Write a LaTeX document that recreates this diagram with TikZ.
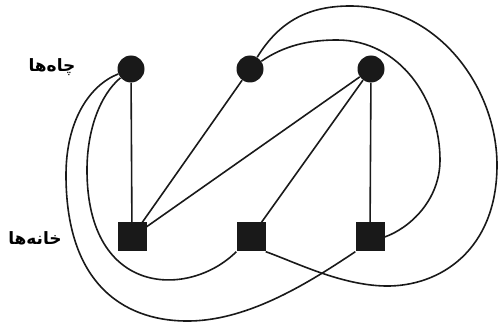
\documentclass[tikz,border=0pt]{standalone}
\usepackage{fontspec}
\newfontfamily\arabicfont[Script=Arabic]{DejaVu Sans}
\TeXXeTstate=1
\begin{document}
\begin{tikzpicture}[x=1pt,y=-1pt,
  well/.style={circle,fill=black!90,inner sep=0pt,minimum size=27pt},
  house/.style={rectangle,fill=black!90,inner sep=0pt,minimum size=29pt},
  edge/.style={line width=1.6pt,black!90},
  lbl/.style={font=\arabicfont\bfseries\fontsize{17}{17}\selectfont,inner sep=0pt}]
\useasboundingbox (0,0) rectangle (499,326);
\node[well] (c1) at (131,69) {};
\node[well] (c2) at (250,69) {};
\node[well] (c3) at (371,69) {};
\node[house] (s1) at (132,237) {};
\node[house] (s2) at (251,237) {};
\node[house] (s3) at (370,237) {};
\node[lbl] (l1) at (52,67) {\beginR چاه‌ها\endR};
\node[lbl] (l2) at (35,238) {\beginR خانه‌ها\endR};
% straight edges
\draw[edge] (c1) -- (s1);
\draw[edge] (c2) -- (s1);
\draw[edge] (c3) -- (s1);
\draw[edge] (c3) -- (s2);
\draw[edge] (c3) -- (s3);
% curved edges
\coordinate (a1) at (87,170);
\draw[edge] (c1) .. controls (100,95) and (87,130) .. (a1)
  .. controls (87,298) and (190,298) .. (s2.south west);
\coordinate (b1) at (66,175);
\coordinate (b2) at (190,321);
\draw[edge] (c1) .. controls (90,85) and (66,120) .. (b1)
  .. controls (66,290) and (130,322) .. (b2)
  .. controls (250,320) and (310,282) .. (s3.south west);
\coordinate (d1) at (350,6);
\coordinate (d2) at (497,165);
\coordinate (d3) at (385,286);
\draw[edge] (c2) .. controls (280,20) and (310,6) .. (d1)
  .. controls (440,6) and (497,90) .. (d2)
  .. controls (497,250) and (440,287) .. (d3)
  .. controls (340,285) and (295,262) .. (s2.south east);
\coordinate (e1) at (337,40);
\coordinate (e2) at (440,160);
\draw[edge] (c2) .. controls (285,45) and (310,40) .. (e1)
  .. controls (400,40) and (440,100) .. (e2)
  .. controls (440,200) and (410,228) .. (s3.east);
\end{tikzpicture}
\end{document}
